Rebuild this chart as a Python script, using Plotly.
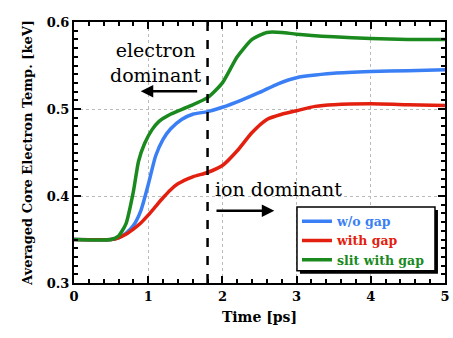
import plotly.graph_objects as go

t_blue = [0, 0.5, 0.6, 0.7, 0.8, 0.9, 1.0, 1.1, 1.2, 1.3, 1.45, 1.6, 1.8, 2.0, 2.25, 2.5, 2.75, 3.0, 3.5, 4.0, 4.5, 5.0]
v_blue = [0.35, 0.35, 0.352, 0.357, 0.366, 0.383, 0.413, 0.446, 0.465, 0.477, 0.488, 0.494, 0.497, 0.502, 0.51, 0.519, 0.529, 0.536, 0.541, 0.543, 0.544, 0.545]

t_red = [0, 0.5, 0.6, 0.7, 0.8, 0.9, 1.0, 1.1, 1.2, 1.3, 1.4, 1.6, 1.8, 2.0, 2.2, 2.4, 2.6, 2.8, 3.0, 3.25, 3.5, 4.0, 4.5, 5.0]
v_red = [0.35, 0.35, 0.352, 0.356, 0.362, 0.369, 0.378, 0.388, 0.398, 0.407, 0.414, 0.422, 0.427, 0.435, 0.452, 0.473, 0.488, 0.494, 0.498, 0.503, 0.505, 0.506, 0.505, 0.504]

t_green = [0, 0.5, 0.6, 0.7, 0.8, 0.87, 0.95, 1.05, 1.15, 1.3, 1.55, 1.8, 2.0, 2.2, 2.4, 2.6, 2.8, 3.0, 3.5, 4.0, 4.5, 5.0]
v_green = [0.35, 0.35, 0.354, 0.368, 0.405, 0.44, 0.46, 0.476, 0.486, 0.494, 0.503, 0.513, 0.53, 0.56, 0.58, 0.588, 0.588, 0.586, 0.583, 0.581, 0.58, 0.58]

names = ["w/o gap", "with gap", "slit with gap"]
colors = ["#3b7ff5", "#e3200f", "#1a8a1e"]
x_ticks = [0, 1, 2, 3, 4, 5]
y_ticks = [0.3, 0.4, 0.5, 0.6]

fig = go.Figure()
for t, v, n, c in zip([t_blue, t_red, t_green], [v_blue, v_red, v_green], names, colors):
    fig.add_trace(go.Scatter(
        x=t, y=v, mode="lines", line=dict(color=c, width=3.5, shape="spline", smoothing=0.6),
        name=f"<span style='color:{c}'><b>{n}</b></span>"))

serif = "DejaVu Serif"
axis_common = dict(
    showline=True, linecolor="black", linewidth=2, mirror="ticks",
    ticks="inside", ticklen=7, tickwidth=1.5, tickcolor="black",
    showgrid=True, gridcolor="#bbbbbb", griddash="dot", gridwidth=1,
    zeroline=False, tickfont=dict(family=serif, size=13, color="black"),
)
fig.update_xaxes(range=[0, 5], tickvals=x_ticks, ticktext=[f"<b>{v}</b>" for v in x_ticks],
                 title=dict(text="<b>Time [ps]</b>", font=dict(family=serif, size=14, color="black"), standoff=10),
                 minor=dict(dtick=0.2, ticks="inside", ticklen=4, tickcolor="black", showgrid=False),
                 **axis_common)
fig.update_yaxes(range=[0.3, 0.6], tickvals=y_ticks, ticktext=[f"<b>{v}</b>" for v in y_ticks],
                 title=dict(text="<b>Averaged Core Electron Temp. [keV]</b>", font=dict(family=serif, size=13, color="black"), standoff=11),
                 minor=dict(dtick=0.01, ticks="inside", ticklen=4, tickcolor="black", showgrid=False),
                 **axis_common)

fig.add_shape(type="line", x0=1.8, x1=1.8, y0=0.3, y1=0.6, xref="x", yref="y",
              line=dict(color="black", width=2.5, dash="dash"))

# legend frame with drop shadow
fig.add_shape(type="rect", xref="paper", yref="paper", x0=0.609, x1=0.981, y0=0.035, y1=0.28,
              fillcolor="black", line=dict(width=0), layer="above")
fig.add_shape(type="rect", xref="paper", yref="paper", x0=0.601, x1=0.973, y0=0.047, y1=0.291,
              fillcolor="white", line=dict(color="black", width=1.5), layer="above")

fig.add_annotation(x=1.1, y=0.553, xref="x", yref="y", text="electron<br>dominant", showarrow=False,
                   font=dict(family=serif, size=19, color="black"), align="center")
fig.add_annotation(x=0.9, y=0.5205, ax=1.68, ay=0.5205, xref="x", yref="y", axref="x", ayref="y",
                   text="", showarrow=True, arrowhead=2, arrowsize=1, arrowwidth=2.5, arrowcolor="black")
fig.add_annotation(x=2.76, y=0.408, xref="x", yref="y", text="ion dominant", showarrow=False,
                   font=dict(family=serif, size=19, color="black"))
fig.add_annotation(x=2.7, y=0.383, ax=1.9, ay=0.383, xref="x", yref="y", axref="x", ayref="y",
                   text="", showarrow=True, arrowhead=2, arrowsize=1, arrowwidth=2.5, arrowcolor="black")

fig.update_layout(
    width=453, height=338, margin=dict(l=74, r=3, t=22, b=55),
    plot_bgcolor="white", paper_bgcolor="white",
    font=dict(family=serif),
    legend=dict(x=0.601, y=0.293, xanchor="left", yanchor="top", bgcolor="rgba(0,0,0,0)",
                borderwidth=0, font=dict(family=serif, size=12.5),
                tracegroupgap=0, itemwidth=30),
    showlegend=True,
)
fig.write_html("out.html")
